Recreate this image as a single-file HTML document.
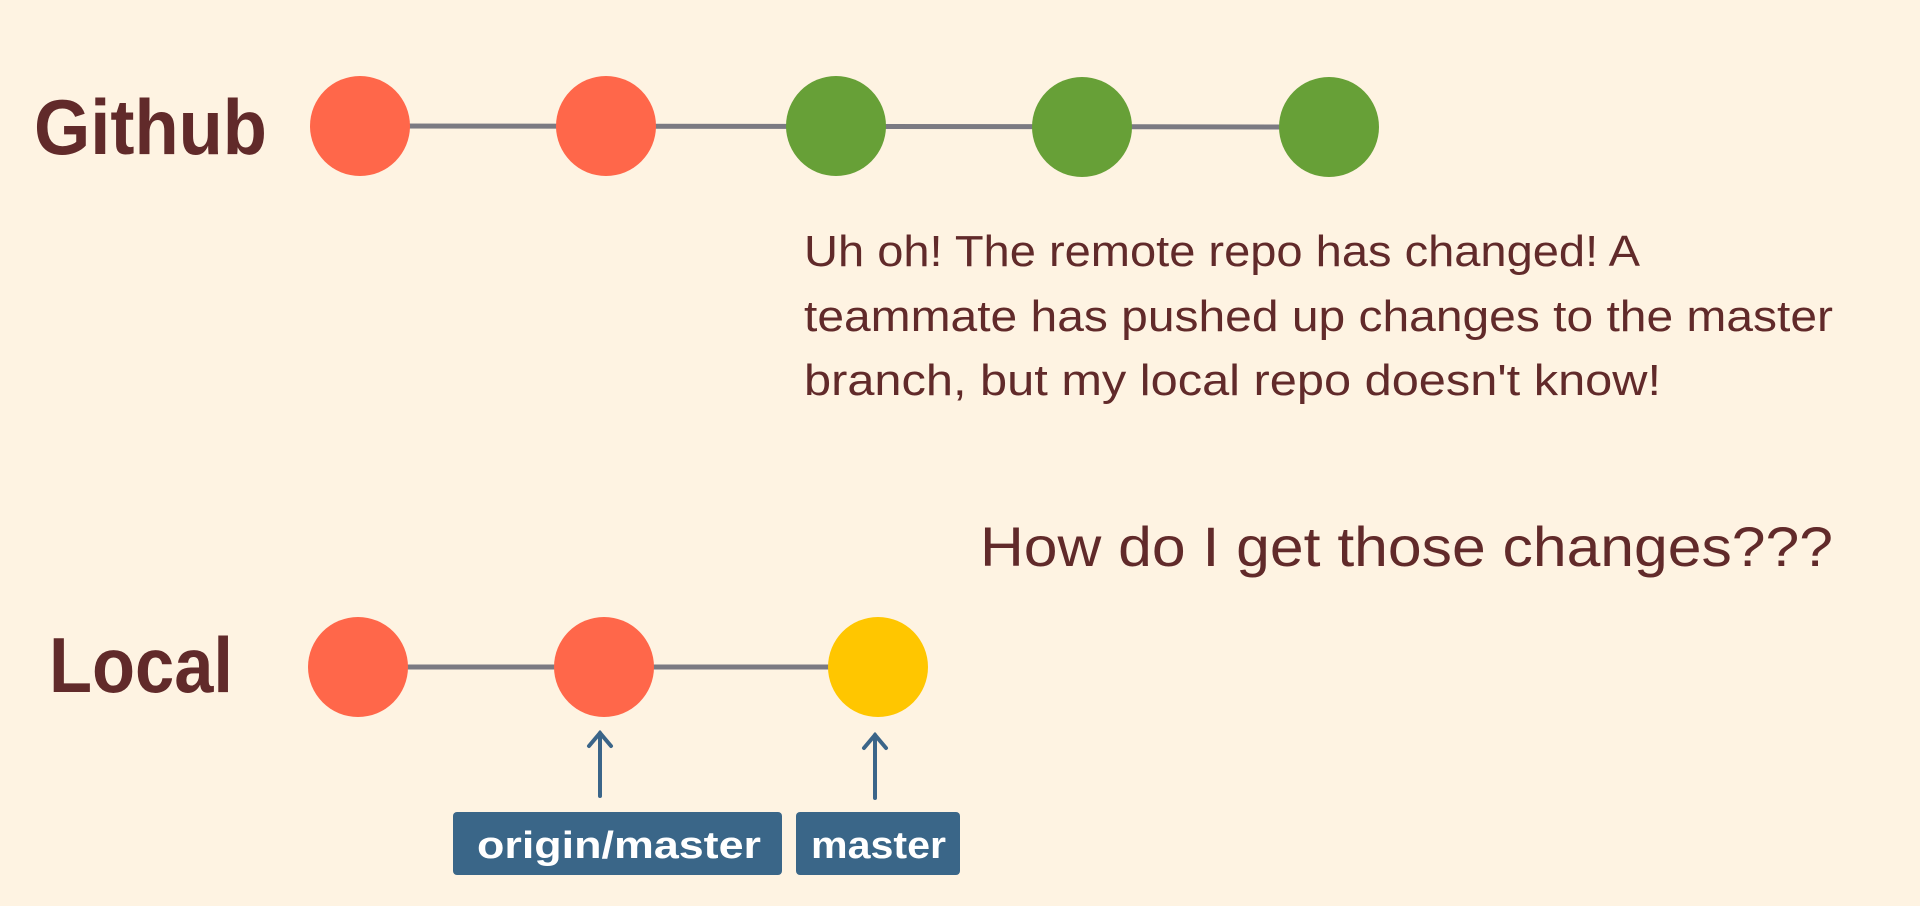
<!DOCTYPE html>
<html><head><meta charset="utf-8"><style>
html,body{margin:0;padding:0;background:#fef3e2;}
svg{display:block}
</style></head><body>
<svg width="1920" height="906" viewBox="0 0 1920 906" xmlns="http://www.w3.org/2000/svg">
<rect width="1920" height="906" fill="#fef3e2"/>
<g stroke="#7b7a82" stroke-width="5">
<line x1="360" y1="126" x2="1329" y2="127"/>
<line x1="358" y1="667" x2="878" y2="667"/>
</g>
<g>
<circle cx="360" cy="126" r="50" fill="#ff674a"/>
<circle cx="606" cy="126" r="50" fill="#ff674a"/>
<circle cx="836" cy="126" r="50" fill="#67a037"/>
<circle cx="1082" cy="127" r="50" fill="#67a037"/>
<circle cx="1329" cy="127" r="50" fill="#67a037"/>
<circle cx="358" cy="667" r="50" fill="#ff674a"/>
<circle cx="604" cy="667" r="50" fill="#ff674a"/>
<circle cx="878" cy="667" r="50" fill="#ffc600"/>
</g>
<g font-family="Liberation Sans, sans-serif" fill="#612a2a">
<text x="34" y="154" font-size="78" font-weight="bold" textLength="233" lengthAdjust="spacingAndGlyphs">Github</text>
<text x="49" y="692" font-size="78" font-weight="bold" textLength="184" lengthAdjust="spacingAndGlyphs">Local</text>
<g font-size="44">
<text x="804" y="266" textLength="836" lengthAdjust="spacingAndGlyphs">Uh oh! The remote repo has changed! A</text>
<text x="804" y="331" textLength="1029" lengthAdjust="spacingAndGlyphs">teammate has pushed up changes to the master</text>
<text x="804" y="395" textLength="857" lengthAdjust="spacingAndGlyphs">branch, but my local repo doesn't know!</text>
</g>
<text x="980" y="566" font-size="56" textLength="853" lengthAdjust="spacingAndGlyphs">How do I get those changes???</text>
</g>
<g stroke="#3b6589" stroke-width="4" fill="none" stroke-linecap="round">
<line x1="600" y1="796" x2="600" y2="733"/>
<polyline points="589,746 600,733 611,746"/>
<line x1="875" y1="798" x2="875" y2="735"/>
<polyline points="864,748 875,735 886,748"/>
</g>
<rect x="453" y="812" width="329" height="63" rx="4" fill="#3a6688"/>
<rect x="796" y="812" width="164" height="63" rx="4" fill="#3a6688"/>
<g font-family="Liberation Sans, sans-serif" fill="#fff" font-size="38" font-weight="bold">
<text x="477" y="858" textLength="284" lengthAdjust="spacingAndGlyphs">origin/master</text>
<text x="811" y="858" textLength="135" lengthAdjust="spacingAndGlyphs">master</text>
</g>
</svg>
</body></html>
